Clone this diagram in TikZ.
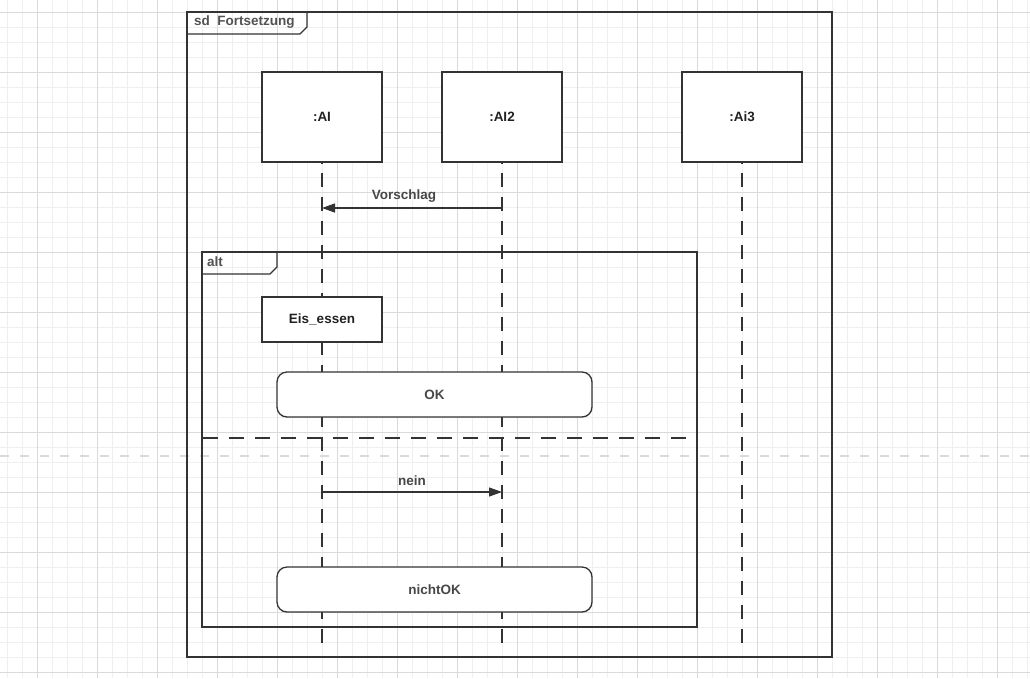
\documentclass[tikz,border=0pt]{standalone}
\usepackage{fontspec}
\setmainfont{Liberation Sans}
\usetikzlibrary{arrows.meta}
\definecolor{ln}{HTML}{333333}
\definecolor{txt}{HTML}{222222}
\definecolor{gmin}{HTML}{EFEFEF}
\definecolor{gmaj}{HTML}{DADADA}
\tikzset{
  obj/.style={draw=ln, line width=1.3pt, fill=white, minimum width=120pt, minimum height=90pt, inner sep=0pt, font=\fontsize{13.5}{15}\selectfont\bfseries, text=txt},
  act/.style={draw=ln, line width=1.3pt, fill=white, minimum width=120pt, minimum height=45pt, inner sep=0pt, font=\fontsize{13.5}{15}\selectfont\bfseries, text=txt},
  stateinv/.style={draw=ln, line width=1.3pt, fill=white, rounded corners=10pt, minimum width=315pt, minimum height=45pt, inner sep=0pt, font=\fontsize{13.5}{15}\selectfont\bfseries, text=ln!90},
  lifeline/.style={draw=ln, line width=1.3pt, dash pattern=on 14pt off 10pt},
  frame/.style={draw=ln, line width=1.3pt},
  msg/.style={draw=ln, line width=1.3pt, -{Triangle[length=13pt,width=9pt]}},
  lbl/.style={font=\fontsize{13.5}{15}\selectfont\bfseries, text=ln!90, inner sep=0pt},
  tablbl/.style={font=\fontsize{13.5}{15}\selectfont\bfseries, text=ln!85, inner sep=0pt, anchor=west}
}
\begin{document}
\begin{tikzpicture}[x=1pt,y=-1pt]
\useasboundingbox (0,0) rectangle (1030,678);
\fill[white] (0,0) rectangle (1030,678);
% grid
\foreach \x in {7,22,...,1030} \draw[gmin, line width=1pt] (\x,0) -- (\x,678);
\foreach \y in {12,27,...,678} \draw[gmin, line width=1pt] (0,\y) -- (1030,\y);
\foreach \x in {37,97,...,1030} \draw[gmaj, line width=1pt] (\x,0) -- (\x,678);
\foreach \y in {12,72,...,678} \draw[gmaj, line width=1pt] (0,\y) -- (1030,\y);
% page break line
\draw[gmaj, line width=2pt, dash pattern=on 9pt off 11pt] (0,456) -- (1030,456);

% outer frame
\draw[frame] (187,12) rectangle (832,657);
\draw[frame] (187,34) -- (300,34) -- (307,27) -- (307,12);
\node[tablbl] (sd) at (194,22) {sd\ \ Fortsetzung};

% lifelines
\coordinate (l1b) at (322,643);
\coordinate (l2b) at (502,643);
\coordinate (l3b) at (742,643);
\node[obj] (a1) at (322,117) {:AI};
\node[obj] (a2) at (502,117) {:AI2};
\node[obj] (a3) at (742,117) {:Ai3};
\draw[lifeline] (l1b) -- (a1.south);
\draw[lifeline] (l2b) -- (a2.south);
\draw[lifeline] (l3b) -- (a3.south);

% Vorschlag
\coordinate (v2) at (502,208);
\coordinate (v1) at (322,208);
\draw[msg] (v2) -- node[lbl, above=5pt, xshift=-8pt] (vl) {Vorschlag} (v1);

% alt frame
\draw[frame] (202,252) rectangle (697,627);
\draw[frame] (202,274) -- (270,274) -- (277,267) -- (277,252);
\node[tablbl] (alt) at (207,262) {alt};

\node[act] (eis) at (322,319.5) {Eis\_essen};
\node[stateinv] (ok) at (434.5,394.5) {OK};

\coordinate (s1) at (203,438);
\coordinate (s2) at (697,438);
\draw[ln, line width=1.3pt, dash pattern=on 15pt off 11pt] (s1) -- (s2);

\coordinate (n1) at (322,492);
\coordinate (n2) at (502,492);
\draw[msg] (n1) -- node[lbl, above=6pt] (nl) {nein} (n2);

\node[stateinv] (nok) at (434.5,589.5) {nichtOK};
\end{tikzpicture}
\end{document}
